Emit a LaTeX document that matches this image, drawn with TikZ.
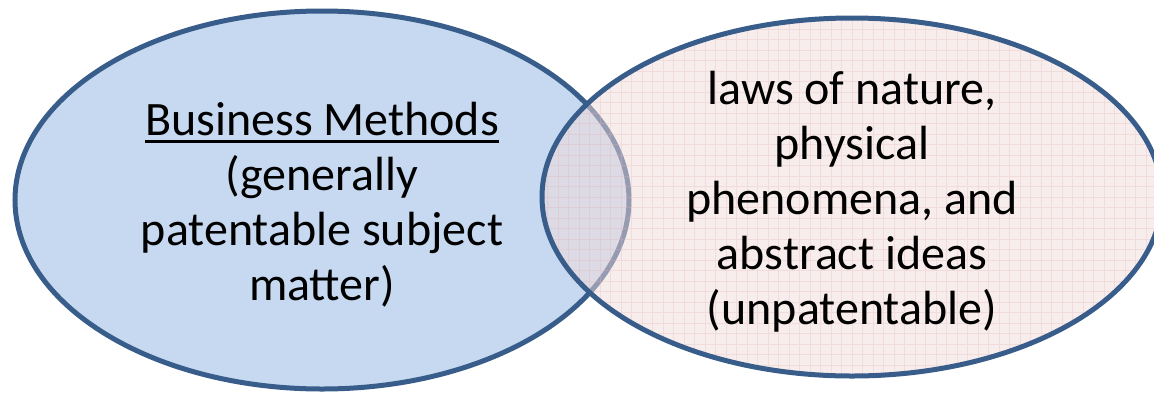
\documentclass[tikz,border=0pt]{standalone}
\usepackage{fontspec}
\setmainfont{Carlito}
\usetikzlibrary{shapes.geometric}
\definecolor{vennborder}{HTML}{385D8A}
\definecolor{vennblue}{HTML}{C6D9F0}
\definecolor{vennpink}{HTML}{F2DCDB}
\definecolor{venngrid}{HTML}{E4B4B4}
\newcommand{\thickul}[1]{\leavevmode\vtop{\hbox{#1}\kern3.5pt\hrule height 3pt}}
\begin{document}
\begin{tikzpicture}[x=1pt,y=-1pt]
   \tikzset{set/.style = {shape=ellipse,draw=vennborder,line width=5pt,inner sep=0pt},
            setlabel/.style = {align=center,font=\fontsize{48}{55}\selectfont}}
   \useasboundingbox (0,0) rectangle (1154,392);
   \clip (0,0) rectangle (1154,392);
   \node[set,fill=vennblue,minimum width=614pt,minimum height=378pt] (methods) at (322,200) {};
   \node[setlabel] (methodstext) at (322,205) {\thickul{Business Methods}\\(generally\\patentable subject\\matter)};

   \node[set,fill=vennpink,fill opacity=0.5,draw opacity=1,minimum width=620pt,minimum height=358pt,
         path picture={\draw[venngrid,line width=1pt,opacity=0.32,step=10.5pt]
            (path picture bounding box.south west) grid (path picture bounding box.north east);}]
         (nature) at (852,197) {};
   \node[setlabel] (naturetext) at (852,202) {laws of nature,\\physical\\phenomena, and\\abstract ideas\\(unpatentable)};
  \end{tikzpicture}
\end{document}
